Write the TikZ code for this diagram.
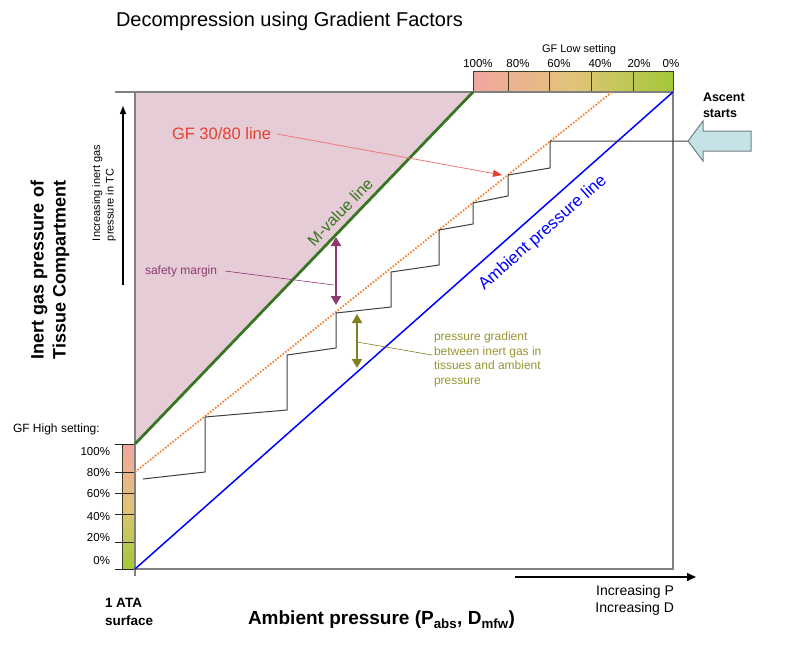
\documentclass[tikz,border=0pt]{standalone}
\usepackage{fontspec}
\setmainfont{Liberation Sans}
\usetikzlibrary{arrows.meta}
\definecolor{pinkfill}{RGB}{230,204,214}
\definecolor{mgreen}{RGB}{56,118,36}
\definecolor{gforange}{RGB}{245,128,48}
\definecolor{boxgray}{RGB}{128,128,128}
\definecolor{stair}{RGB}{64,64,64}
\definecolor{gfred}{RGB}{228,64,48}
\definecolor{leadred}{RGB}{240,120,120}
\definecolor{purp}{RGB}{140,58,112}
\definecolor{olive}{RGB}{128,128,32}
\definecolor{olivetext}{RGB}{150,150,50}
\definecolor{barpink}{RGB}{240,166,160}
\definecolor{bartan}{RGB}{226,196,120}
\definecolor{bargreen}{RGB}{162,200,56}
\definecolor{ascfill}{RGB}{197,227,230}
\definecolor{ascdraw}{RGB}{112,128,128}
\definecolor{bardivc}{RGB}{60,60,30}
\begin{document}
\begin{tikzpicture}[x=1pt,y=-1pt,
  txt/.style={inner sep=0pt, outer sep=0pt},
  bardiv/.style={draw=bardivc, line width=0.9pt},
  boxline/.style={draw=boxgray, line width=1.3pt},
  ticky/.style={draw=black!85, line width=1pt},
  dblarrow/.style={line width=2pt, {Triangle[length=9pt,width=10pt]}-{Triangle[length=9pt,width=10pt]}},
  leader/.style={line width=0.6pt},
  pct/.style={txt, font=\fontsize{11.5}{13}\selectfont}]
\useasboundingbox (0,0) rectangle (800,646);

% key coordinates
\coordinate (O) at (135,569);
\coordinate (TL) at (135,92);
\coordinate (TR) at (673,92);
\coordinate (BR) at (673,569);
\coordinate (Mtop) at (473,92);
\coordinate (Mbot) at (135,444);
\coordinate (Gbot) at (135,472);
\coordinate (Gtop) at (612,92);

% pink area above M-value line
\fill[pinkfill] (TL) -- (Mtop) -- (Mbot) -- cycle;

% GF low bar (top)
\shade[left color=barpink, right color=bargreen, middle color=bartan] (473,71) rectangle (673,92);
\foreach \x in {508,549,591,633} \draw[bardiv] (\x,71) -- (\x,92);
\draw[bardiv] (473,71) rectangle (673,92);

% GF high bar (left)
\shade[top color=barpink, bottom color=bargreen, middle color=bartan] (122,444) rectangle (135,569);
\draw[bardiv] (122,444) rectangle (135,569);
\foreach \y in {444,472,493,514,542,569} \draw[ticky] (115,\y) -- (135,\y);

% plot box
\draw[boxline] (115,92) -- (TR) -- (BR) -- (O);
\draw[boxline] (135,92) -- (135,576);

% lines
\draw[blue, line width=1.5pt] (O) -- (TR);
\draw[gforange, line width=1.8pt, dash pattern=on 1.6pt off 1.6pt] (Gbot) -- (Gtop);
\draw[mgreen, line width=2.8pt] (Mbot) -- (Mtop);

% staircase
\coordinate (S0) at (688,141);
\draw[stair, line width=1pt] (S0) -- (550,141) -- (550,168) -- (508,175) -- (508,196) -- (473,203) -- (473,224)
  -- (439,230) -- (439,265) -- (391,272) -- (391,307) -- (336,313) -- (336,348) -- (287,355)
  -- (287,410) -- (205,417) -- (205,472) -- (143,479);

% ascent arrow
\draw[draw=ascdraw, fill=ascfill, line width=1pt] (S0) -- (703,121) -- (703,131) -- (751,131) -- (751,151) -- (703,151) -- (703,161) -- cycle;
\node[txt, anchor=west, align=left, font=\bfseries\fontsize{12.5}{16}\selectfont] (asc) at (703,105) {Ascent\\starts};

% title
\node[txt, anchor=west, font=\fontsize{20}{24}\selectfont] (title) at (116,21) {Decompression using Gradient Factors};

% GF low labels
\node[txt, font=\fontsize{11}{13}\selectfont] (gflow) at (579,50) {GF Low setting};
\node[pct] (l100) at (478,64) {100\%};
\node[pct] (l80) at (518,64) {80\%};
\node[pct] (l60) at (559,64) {60\%};
\node[pct] (l40) at (600,64) {40\%};
\node[pct] (l20) at (639,64) {20\%};
\node[pct] (l0) at (671,64) {0\%};

% GF high labels
\node[txt, anchor=west, font=\fontsize{12}{14}\selectfont] (gfhigh) at (13,429) {GF High setting:};
\node[pct, anchor=east] (h100) at (110,452) {100\%};
\node[pct, anchor=east] (h80) at (110,473) {80\%};
\node[pct, anchor=east] (h60) at (110,494) {60\%};
\node[pct, anchor=east] (h40) at (110,517) {40\%};
\node[pct, anchor=east] (h20) at (110,538) {20\%};
\node[pct, anchor=east] (h0) at (110,561) {0\%};

% y axis labels
\node[txt, rotate=90, align=center, font=\bfseries\fontsize{18}{22}\selectfont] (ylab) at (50,270) {Inert gas pressure of\\Tissue Compartment};
\node[txt, rotate=90, anchor=west, align=left, font=\fontsize{11}{13.5}\selectfont] (incy) at (104,241) {Increasing inert gas\\pressure in TC};
\coordinate (ya) at (123,285);
\coordinate (yb) at (123,106);
\draw[line width=1.2pt, -{Triangle[length=8pt,width=6pt]}] (ya) -- (yb);

% x axis labels
\node[txt, anchor=west, font=\bfseries\fontsize{19}{22}\selectfont] (xlab) at (248,620) {Ambient pressure (P\textsubscript{abs}, D\textsubscript{mfw})};
\node[txt, anchor=west, align=left, font=\bfseries\fontsize{13.5}{17.5}\selectfont] (ata) at (105,612) {1 ATA\\surface};
\node[txt, anchor=east, align=right, font=\fontsize{14}{17}\selectfont] (incp) at (674,600) {Increasing P\\Increasing D};
\coordinate (xa) at (515,577);
\coordinate (xb) at (696,577);
\draw[line width=1.5pt, -{Triangle[length=9pt,width=8pt]}] (xa) -- (xb);

% line labels
\node[txt, anchor=west, text=gfred, font=\fontsize{16.5}{20}\selectfont] (gfl) at (172,134) {GF 30/80 line};
\coordinate (gftip) at (502,175);
\draw[leadred, leader, line width=0.8pt, -{Triangle[length=9pt,width=7pt,color=gfred]}] ([xshift=6pt]gfl.east) -- (gftip);
\node[txt, rotate=46.2, text=mgreen, font=\fontsize{16}{19}\selectfont] (mval) at (340,212) {M-value line};
\node[txt, rotate=41.6, text=blue, font=\fontsize{17}{20}\selectfont] (amb) at (543,233) {Ambient pressure line};

% safety margin
\node[txt, anchor=west, text=purp, font=\fontsize{12}{14}\selectfont] (sm) at (145,271) {safety margin};
\coordinate (sma) at (336,237);
\coordinate (smb) at (336,305);
\coordinate (smc) at (334,285);
\draw[purp, dblarrow] (sma) -- (smb);
\draw[purp, leader] ([xshift=8pt]sm.east) -- (smc);

% pressure gradient
\node[txt, anchor=north west, align=left, text=olivetext, font=\fontsize{12}{14.5}\selectfont] (pg) at (434,332) {pressure gradient\\between inert gas in\\tissues and ambient\\pressure};
\coordinate (pga) at (357,314);
\coordinate (pgb) at (357,368);
\coordinate (pgc) at (357,342);
\draw[olive, dblarrow] (pga) -- (pgb);
\draw[olive, leader] (pgc) -- (432,355);
\end{tikzpicture}
\end{document}
